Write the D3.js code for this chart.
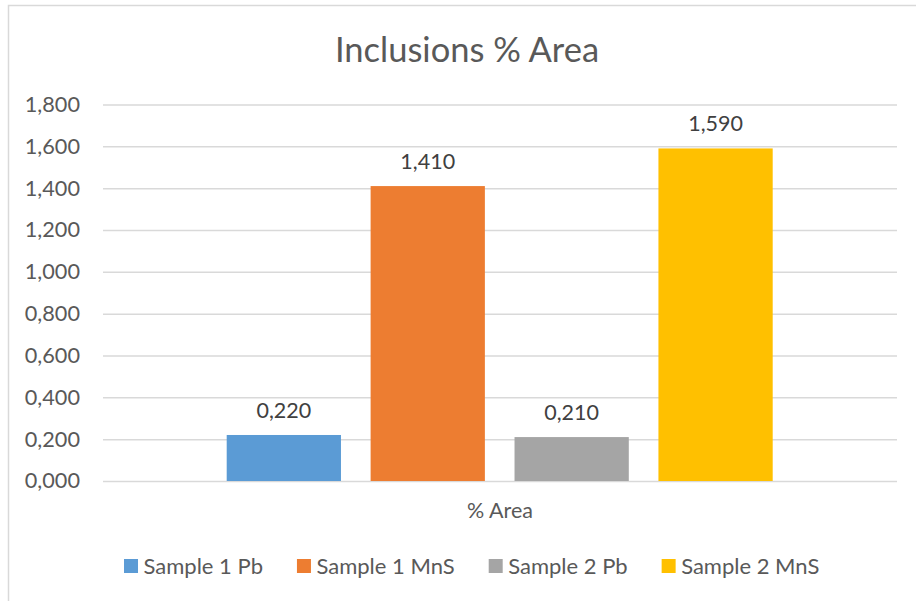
<!DOCTYPE html>
<html>
<head>
<meta charset="utf-8">
<script src="https://cdn.jsdelivr.net/npm/d3@7"></script>
<style>
  html, body { margin: 0; padding: 0; background: #fff; }
  svg { display: block; }
  text { font-family: Lato, "Open Sans", sans-serif; fill: #595959; }
</style>
</head>
<body>
<svg id="chart" width="916" height="601"></svg>
<script>
// Inclusion area per sample and phase
const seriesNames = ["Sample 1 Pb", "Sample 1 MnS", "Sample 2 Pb", "Sample 2 MnS"];
const seriesValues = [0.22, 1.41, 0.21, 1.59];
const seriesColors = ["#5B9BD5", "#ED7D31", "#A5A5A5", "#FFC000"];
const categoryLabel = "% Area";
const yTicks = [0, 0.2, 0.4, 0.6, 0.8, 1.0, 1.2, 1.4, 1.6, 1.8];
const chartTitle = "Inclusions % Area";

const svg = d3.select("#chart");
const W = 916, H = 601;
const plot = { left: 103, right: 897, top: 104.5, bottom: 481 };

// comma as decimal separator, three decimals
const fmt = v => d3.format(".3f")(v).replace(".", ",");

// chart frame (top and left edges visible)
svg.append("rect")
  .attr("x", 8.5).attr("y", 5.5)
  .attr("width", W + 20).attr("height", H + 20)
  .attr("fill", "#fff")
  .attr("stroke", "#d9d9d9")
  .attr("stroke-width", 1.5);

const y = d3.scaleLinear().domain([0, 1.8]).range([plot.bottom, plot.top]);
const x = d3.scaleBand()
  .domain(seriesNames)
  .range([226.7, 772.7])
  .paddingInner(0.206)
  .paddingOuter(0);

// title
svg.append("text")
  .attr("x", 467).attr("y", 61.5)
  .attr("text-anchor", "middle")
  .style("font-size", "34.5px")
  .text(chartTitle);

// gridlines + y tick labels via axis
const yAxis = d3.axisLeft(y)
  .tickValues(yTicks)
  .tickSize(-(plot.right - plot.left))
  .tickPadding(23)
  .tickFormat(fmt);

const gy = svg.append("g")
  .attr("transform", `translate(${plot.left},0)`)
  .call(yAxis);
gy.select(".domain").remove();
gy.selectAll(".tick line")
  .attr("stroke", "#d9d9d9")
  .attr("stroke-width", 1.5);
gy.selectAll(".tick text")
  .attr("fill", "#595959")
  .style("font-size", "21.7px")
  .style("font-family", "Lato, 'Open Sans', sans-serif");

// bars
svg.append("g").selectAll("rect")
  .data(seriesNames.map((n, i) => ({ name: n, value: seriesValues[i], color: seriesColors[i] })))
  .join("rect")
  .attr("x", d => x(d.name))
  .attr("width", x.bandwidth())
  .attr("y", d => y(d.value))
  .attr("height", d => y(0) - y(d.value))
  .attr("fill", d => d.color);

// value labels
svg.append("g").selectAll("text")
  .data(seriesNames.map((n, i) => ({ name: n, value: seriesValues[i] })))
  .join("text")
  .attr("x", d => x(d.name) + x.bandwidth() / 2)
  .attr("y", d => y(d.value) - 17)
  .attr("text-anchor", "middle")
  .style("font-size", "21.5px")
  .style("fill", "#404040")
  .text(d => fmt(d.value));

// category label
svg.append("text")
  .attr("x", (plot.left + plot.right) / 2)
  .attr("y", 518)
  .attr("text-anchor", "middle")
  .style("font-size", "21.5px")
  .text(categoryLabel);

// legend
const legend = svg.append("g");
const items = legend.selectAll("g")
  .data(seriesNames)
  .join("g");
items.append("rect")
  .attr("width", 14).attr("height", 14)
  .attr("y", 559)
  .attr("fill", (d, i) => seriesColors[i]);
items.append("text")
  .attr("x", 19.5)
  .attr("y", 573.5)
  .style("font-size", "22px")
  .text(d => d);
let cursor = 0;
const widths = [];
items.each(function () {
  const w = 19.5 + this.querySelector("text").getComputedTextLength();
  widths.push(w);
});
const gap = 34;
const total = d3.sum(widths) + gap * (widths.length - 1);
cursor = 471.7 - total / 2;
items.attr("transform", (d, i) => {
  const t = `translate(${cursor},0)`;
  cursor += widths[i] + gap;
  return t;
});
</script>
</body>
</html>
